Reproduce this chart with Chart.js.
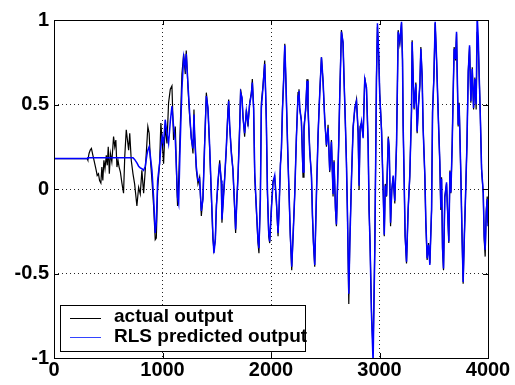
<!DOCTYPE html>
<html>
<head>
<meta charset="utf-8">
<script src="https://cdn.jsdelivr.net/npm/chart.js@4.4.1/dist/chart.umd.min.js"></script>
<style>
  html, body { margin:0; padding:0; background:#fff; }
  #wrap { position:relative; width:515px; height:385px; }
  #legend { position:absolute; left:60px; top:305px; width:246px; height:47px; box-sizing:border-box;
            border:1px solid #000; background:#fff; font:bold 19px "Liberation Sans", Arial, sans-serif; color:#000; }
  .row { position:absolute; left:53px; height:19px; line-height:19px; white-space:pre; }
  .swatch { position:absolute; left:9px; width:31px; height:1px; }
</style>
</head>
<body>
<div id="wrap">
  <canvas id="c" width="515" height="385"></canvas>
  <div id="legend">
    <div class="swatch" style="top:12px;background:#000"></div>
    <div class="row" style="top:0px">actual output</div>
    <div class="swatch" style="top:31px;background:#3344ff"></div>
    <div class="row" style="top:20px">RLS predicted output</div>
  </div>
</div>
<script>
const xTicks = [0, 1000, 2000, 3000, 4000];
const yTicks = [-1, -0.5, 0, 0.5, 1];
const seriesNames = ['actual output', 'RLS predicted output'];

// sample index (time step)
const sampleIdx = [
  0, 305, 312, 323, 334, 345, 358, 372, 389, 398,
  410, 420, 432, 441, 450, 460, 470, 482, 491, 500,
  510, 520, 533, 549, 560, 570, 580, 590, 600, 612,
  626, 641, 652, 666, 677, 688, 698, 712, 728, 743,
  764, 780, 795, 810, 826, 841, 856, 865, 877, 887,
  903, 918, 933, 943, 955, 973, 985, 998, 1010, 1025,
  1041, 1056, 1072, 1087, 1102, 1118, 1133, 1139, 1149, 1164,
  1179, 1195, 1210, 1219, 1234, 1250, 1265, 1281, 1290, 1296,
  1312, 1327, 1342, 1358, 1373, 1388, 1404, 1419, 1435, 1450,
  1465, 1474, 1487, 1496, 1511, 1527, 1542, 1548, 1557, 1573,
  1588, 1603, 1610, 1619, 1634, 1649, 1665, 1674, 1686, 1696,
  1711, 1720, 1733, 1742, 1757, 1773, 1788, 1803, 1819, 1828,
  1840, 1850, 1865, 1880, 1889, 1902, 1911, 1926, 1942, 1951,
  1957, 1967, 1979, 1988, 2004, 2019, 2034, 2050, 2065, 2074,
  2087, 2096, 2105, 2117, 2127, 2136, 2148, 2157, 2166, 2178,
  2191, 2203, 2219, 2234, 2249, 2258, 2265, 2280, 2295, 2304,
  2320, 2332, 2341, 2357, 2373, 2382, 2391, 2403, 2419, 2434,
  2449, 2465, 2480, 2495, 2511, 2526, 2541, 2557, 2572, 2581,
  2594, 2603, 2612, 2624, 2634, 2649, 2664, 2673, 2686, 2695,
  2704, 2717, 2726, 2742, 2757, 2772, 2788, 2803, 2812, 2821,
  2834, 2849, 2864, 2880, 2895, 2904, 2913, 2926, 2941, 2957,
  2972, 2981, 2994, 3002, 3019, 3035, 3044, 3053, 3065, 3081,
  3090, 3102, 3113, 3126, 3141, 3157, 3166, 3172, 3187, 3203,
  3212, 3218, 3227, 3236, 3249, 3264, 3279, 3295, 3301, 3310,
  3319, 3335, 3347, 3356, 3372, 3381, 3393, 3402, 3418, 3427,
  3439, 3452, 3464, 3480, 3489, 3501, 3513, 3526, 3541, 3556,
  3565, 3572, 3581, 3590, 3602, 3618, 3627, 3639, 3649, 3658,
  3670, 3679, 3688, 3701, 3710, 3725, 3734, 3750, 3762, 3771,
  3780, 3793, 3806, 3818, 3830, 3842, 3855, 3867, 3879, 3891,
  3900, 3910, 3919, 3928, 3941, 3956, 3965, 3974, 3984, 3993,
  4000
];

const actualOut = [
  .18, .18, .17, .21, .23, .24, .20, .16, .11, .08,
  .09, .05, .035, .13, .05, .17, .12, .20, .14, .25,
  .09, .21, .16, .31, .25, .29, .13, .17, .13, .10,
  .035, -.025, .19, .35, .29, .23, .33, .17, .09, .03,
  -.10, .01, -.03, .11, -.025, .11, .27, .37, .33, .19,
  .05, -.10, -.30, -.29, 0, .15, .39, .27, .15, .37,
  .27, .51, .59, .61, .29, .37, -.006, -.10, .05, .37,
  .68, .80, .68, .82, .61, .43, .31, .21, .47, .31,
  .11, .03, .07, -.16, -.045, .27, .57, .47, .23, -.045,
  -.30, -.36, -.30, -.10, .03, .17, .03, -.20, -.085, .07,
  .23, .47, .53, .37, .23, .11, -.124, -.26, -.045, .07,
  .37, .59, .53, .43, .31, .47, .37, .51, .57, .65,
  .47, .07, -.124, -.32, -.38, -.045, .51, .61, .76, .55,
  .41, -.025, -.28, -.32, -.10, .05, .07, -.085, -.28, -.124,
  .15, .23, .47, .66, .86, .66, .37, .17, -.025, -.28,
  -.48, -.28, -.025, .31, .57, .59, .47, .41, .07, .37,
  .47, .65, .47, .23, .07, -.16, -.32, -.46, -.025, .33,
  .57, .78, .63, .42, .25, .38, .10, .29, -.045, .17,
  -.124, -.22, -.006, .27, .57, .94, .86, .66, .37, .17,
  -.124, -.68, -.32, .07, .37, .47, .53, .33, -.006, .37,
  .39, .31, .66, .59, .27, -.124, -.32, -.72, -.97, -.32,
  .66, .96, .76, .57, .35, -.045, -.28, .03, -.045, .31,
  .23, -.22, -.006, .07, -.085, .27, .66, .94, .86, .98,
  .76, .37, .07, -.28, -.44, -.124, .07, .47, .88, .66,
  .47, .63, .33, .47, .61, .84, .66, .37, .07, -.20,
  -.42, -.32, -.44, -.124, .47, .66, .98, .76, .45, .15,
  -.124, .07, -.36, -.48, -.045, .03, -.124, -.32, .11, -.025,
  .27, .57, .84, .76, .92, .37, .51, .07, -.32, -.56,
  -.32, -.045, .27, .70, .84, .51, .72, .47, .66, .47,
  .93, .86, .66, .47, .11, -.025, -.30, -.40, -.124, -.045,
  -.20
];

const rlsPred = [
  .18, .18, .185, .185, .185, .185, .185, .185, .185, .185,
  .185, .185, .185, .185, .185, .185, .185, .185, .185, .185,
  .185, .185, .185, .185, .185, .185, .185, .185, .185, .185,
  .185, .185, .185, .185, .185, .185, .185, .185, .185, .175,
  .155, .135, .125, .12, .11, .135, .20, .23, .25, .20,
  .11, -.05, -.26, -.20, .05, .15, .25, .31, .27, .41,
  .33, .27, .40, .49, .37, .29, .05, -.05, -.085, .29,
  .59, .78, .72, .80, .63, .45, .30, .24, .44, .33,
  .13, .05, .06, -.13, -.06, .25, .55, .48, .25, -.02,
  -.28, -.38, -.30, -.12, .05, .15, .05, -.18, -.10, .06,
  .25, .45, .52, .38, .21, .12, -.10, -.24, -.06, .08,
  .35, .57, .54, .42, .33, .46, .39, .50, .56, .63,
  .48, .10, -.11, -.30, -.35, -.06, .48, .60, .74, .57,
  .40, 0, -.26, -.31, -.12, .04, .08, -.07, -.26, -.13,
  .14, .24, .45, .65, .85, .68, .38, .16, -.01, -.27,
  -.46, -.29, -.03, .30, .55, .58, .48, .40, .10, .35,
  .48, .64, .49, .22, .08, -.15, -.31, -.45, -.03, .32,
  .56, .78, .64, .41, .26, .36, .11, .28, -.03, .16,
  -.11, -.21, -.01, .26, .56, .93, .87, .65, .38, .16,
  -.12, -.62, -.34, .06, .36, .48, .52, .34, .02, .35,
  .40, .30, .65, .60, .28, -.12, -.33, -.74, -1.03, -.35,
  .64, .98, .78, .56, .34, -.04, -.27, .02, -.04, .30,
  .24, -.20, -.01, .08, -.07, .26, .65, .93, .87, .99,
  .77, .38, .06, -.27, -.43, -.12, .08, .46, .87, .67,
  .48, .62, .34, .46, .62, .83, .67, .36, .08, -.19,
  -.41, -.33, -.45, -.12, .45, .65, .99, .77, .44, .16,
  -.11, .06, -.35, -.47, -.05, .04, -.12, -.31, .10, -.02,
  .26, .56, .83, .77, .93, .38, .50, .08, -.31, -.55,
  -.33, -.04, .26, .69, .85, .52, .71, .48, .65, .50,
  1.03, .90, .67, .46, .12, -.02, -.28, -.36, -.14, -.06,
  -.22
];

const boxPlugin = {
  id: 'box',
  afterDraw(chart) {
    const { ctx, chartArea: a, scales: { x, y } } = chart;
    ctx.save();
    ctx.strokeStyle = '#000';
    ctx.lineWidth = 1;
    ctx.strokeRect(a.left + 0.5, a.top + 0.5, a.right - a.left, a.bottom - a.top);
    ctx.beginPath();
    xTicks.forEach(v => {
      const px = Math.round(x.getPixelForValue(v)) + 0.5;
      ctx.moveTo(px, a.bottom); ctx.lineTo(px, a.bottom - 5);
      ctx.moveTo(px, a.top); ctx.lineTo(px, a.top + 5);
    });
    yTicks.forEach(v => {
      const py = Math.round(y.getPixelForValue(v)) + 0.5;
      ctx.moveTo(a.left, py); ctx.lineTo(a.left + 5, py);
      ctx.moveTo(a.right, py); ctx.lineTo(a.right - 5, py);
    });
    ctx.stroke();
    ctx.restore();
  }
};

const tickFont = { family: '"Liberation Sans", Arial, sans-serif', size: 20, weight: 'bold' };

new Chart(document.getElementById('c'), {
  type: 'line',
  data: {
    labels: sampleIdx,
    datasets: [
      { label: seriesNames[0], data: sampleIdx.map((t, i) => ({ x: t, y: actualOut[i] })),
        borderColor: '#000', borderWidth: 1.2, pointRadius: 0, tension: 0, order: 1 },
      { label: seriesNames[1], data: sampleIdx.map((t, i) => ({ x: t, y: rlsPred[i] })),
        borderColor: '#0000ff', borderWidth: 1.5, pointRadius: 0, tension: 0, order: 0 }
    ]
  },
  options: {
    responsive: false, animation: false,
    layout: { padding: { top: 20, right: 27, left: 0, bottom: 0 } },
    plugins: { legend: { display: false }, tooltip: { enabled: false } },
    scales: {
      x: {
        type: 'linear', min: 0, max: 4000,
        afterBuildTicks: s => { s.ticks = xTicks.map(v => ({ value: v })); },
        afterFit: s => { s.height = 27; },
        ticks: { color: '#000', font: tickFont, padding: 0, maxRotation: 0, callback: v => String(v) },
        grid: { color: 'rgba(0,0,0,0.85)', lineWidth: 1, drawTicks: false },
        border: { display: false, dash: [1, 3] }
      },
      y: {
        type: 'linear', min: -1, max: 1,
        afterBuildTicks: s => { s.ticks = yTicks.map(v => ({ value: v })); },
        afterFit: s => { s.width = 54; },
        ticks: { color: '#000', font: tickFont, padding: 5, callback: v => String(v) },
        grid: { color: 'rgba(0,0,0,0.85)', lineWidth: 1, drawTicks: false },
        border: { display: false, dash: [1, 3] }
      }
    }
  },
  plugins: [boxPlugin]
});
</script>
</body>
</html>
